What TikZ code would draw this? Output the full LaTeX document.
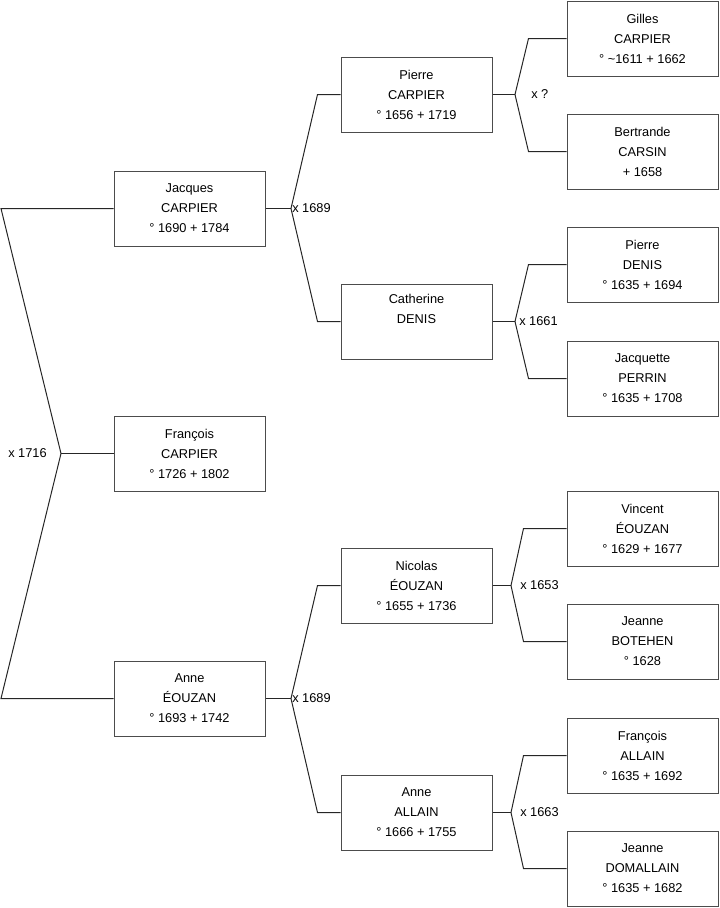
\documentclass[tikz,border=0pt]{standalone}
\usepackage{fontspec}
\setmainfont{Liberation Sans}
\usetikzlibrary{positioning}

\begin{document}
\begin{tikzpicture}[
        x=0.75pt, y=-0.75pt,
        person/.style={rectangle, draw=black!70, line width=0.75pt, minimum width=113.25pt, minimum height=56.25pt, inner sep=0pt, align=center, font=\fontsize{9.6pt}{15pt}\selectfont},
        link/.style={draw=black!85, line width=0.75pt},
        wed/.style={inner sep=0pt, font=\fontsize{9.6pt}{11pt}\selectfont}
      ]
      \useasboundingbox (0,0) rectangle (719,908);

      \node (jacques) [person] at (189.5,208.5) {Jacques\\CARPIER\\° 1690 + 1784};
      \node (francois) [person] at (189.5,453.5) {François\\CARPIER\\° 1726 + 1802};
      \node (anne) [person] at (189.5,698.5) {Anne\\ÉOUZAN\\° 1693 + 1742};

      \node (pierre) [person] at (416.5,94.5) {Pierre\\CARPIER\\° 1656 + 1719};
      \node (catherine) [person] at (416.5,321.5) {Catherine\\DENIS\\\strut};
      \node (nicolas) [person] at (416.5,585.5) {Nicolas\\ÉOUZAN\\° 1655 + 1736};
      \node (anneA) [person] at (416.5,812.5) {Anne\\ALLAIN\\° 1666 + 1755};

      \node (gilles) [person] at (642.5,38.5) {Gilles\\CARPIER\\° \textasciitilde1611 + 1662};
      \node (bertrande) [person] at (642.5,151.5) {Bertrande\\CARSIN\\+ 1658};
      \node (pierreD) [person] at (642.5,264.5) {Pierre\\DENIS\\° 1635 + 1694};
      \node (jacquette) [person] at (642.5,378.5) {Jacquette\\PERRIN\\° 1635 + 1708};
      \node (vincent) [person] at (642.5,528.5) {Vincent\\ÉOUZAN\\° 1629 + 1677};
      \node (jeanneB) [person] at (642.5,641.5) {Jeanne\\BOTEHEN\\° 1628};
      \node (francoisA) [person] at (642.5,755.5) {François\\ALLAIN\\° 1635 + 1692};
      \node (jeanneD) [person] at (642.5,868.5) {Jeanne\\DOMALLAIN\\° 1635 + 1682};

      \coordinate (r1) at (1,208.5);
      \coordinate (r2) at (1,698.5);
      \coordinate (m0) at (61,453.5);
      \coordinate (m1) at (291,208.5);
      \coordinate (m2) at (291,698.5);
      \coordinate (m3) at (515,94.5);
      \coordinate (m4) at (515,321.5);
      \coordinate (m5) at (511,585.5);
      \coordinate (m6) at (511,812.5);

      \draw[link] (jacques.west) -- (r1) -- (m0) -- (r2) -- (anne.west);
      \draw[link] (m0) -- (francois.west);

      \draw[link] (jacques.east) -- (m1);
      \draw[link] (pierre.west) -- ++(-23,0) -- (m1);
      \draw[link] (catherine.west) -- ++(-23,0) -- (m1);
      \draw[link] (anne.east) -- (m2);
      \draw[link] (nicolas.west) -- ++(-23,0) -- (m2);
      \draw[link] (anneA.west) -- ++(-23,0) -- (m2);

      \draw[link] (pierre.east) -- (m3);
      \draw[link] (gilles.west) -- ++(-38,0) -- (m3);
      \draw[link] (bertrande.west) -- ++(-38,0) -- (m3);
      \draw[link] (catherine.east) -- (m4);
      \draw[link] (pierreD.west) -- ++(-38,0) -- (m4);
      \draw[link] (jacquette.west) -- ++(-38,0) -- (m4);
      \draw[link] (nicolas.east) -- (m5);
      \draw[link] (vincent.west) -- ++(-43,0) -- (m5);
      \draw[link] (jeanneB.west) -- ++(-43,0) -- (m5);
      \draw[link] (anneA.east) -- (m6);
      \draw[link] (francoisA.west) -- ++(-43,0) -- (m6);
      \draw[link] (jeanneD.west) -- ++(-43,0) -- (m6);

      \node (w0) [wed, left=10.5pt of m0] {x 1716};
      \node (w1) [wed, right=0.75pt of m1] {x 1689};
      \node (w2) [wed, right=0.75pt of m2] {x 1689};
      \node (w3) [wed, right=12pt of m3] {x ?};
      \node (w4) [wed, right=3pt of m4] {x 1661};
      \node (w5) [wed, right=6.75pt of m5] {x 1653};
      \node (w6) [wed, right=6.75pt of m6] {x 1663};
    \end{tikzpicture}
\end{document}
